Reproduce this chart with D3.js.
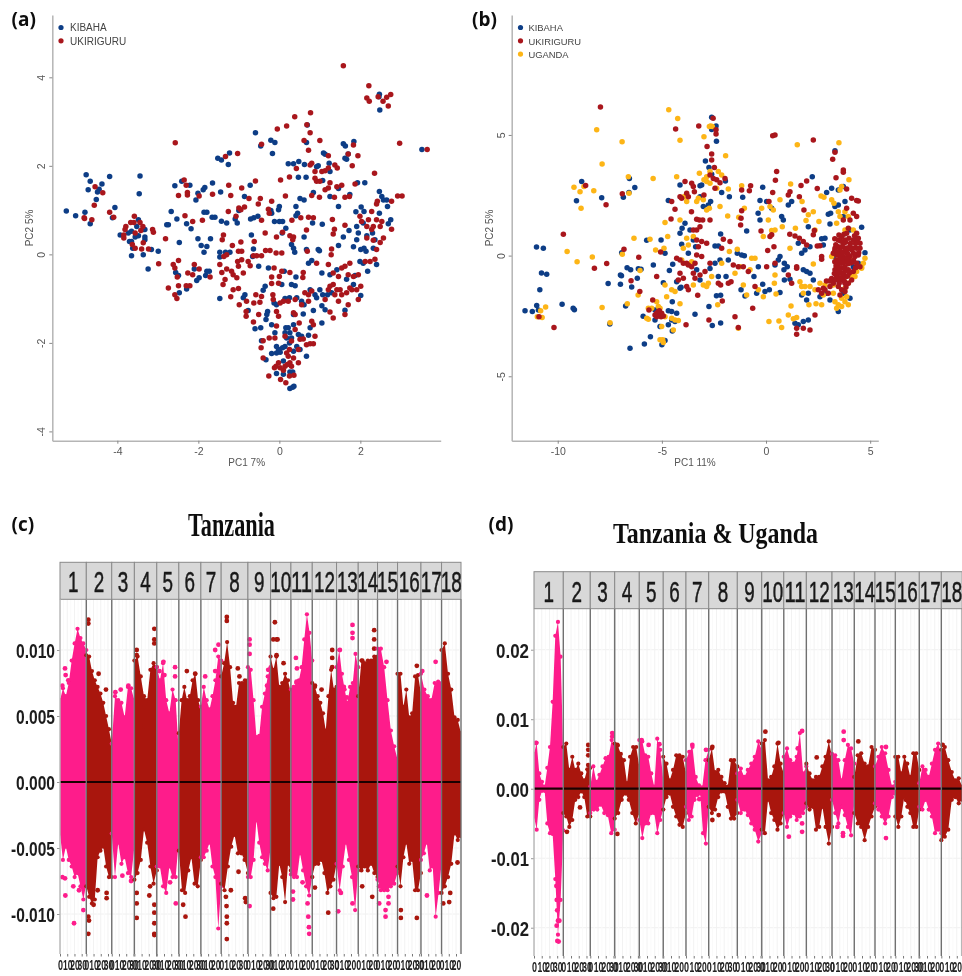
<!DOCTYPE html>
<html><head><meta charset="utf-8">
<script src="https://cdn.jsdelivr.net/npm/d3@7"></script>
<style>html,body{margin:0;padding:0;background:#fff;overflow:hidden}svg{display:block}</style>
</head><body><svg id="c" width="962" height="976"></svg>
<script>
// ---------- Panel (a) PCA values: [PC1, PC2]
const kibahaA=[[-5.26,.98],[-5.03,.87],[-4.8,.95],[-4.67,.69],[-4.77,1.8],[-4.67,1.65],[-4.72,1.46],[-4.49,1.41],[-4.45,1.47],[-4.38,1.59],[-4.52,1.24],[-4.19,1.76],[-3.44,1.77],[-3.46,1.37],[-4.06,1.06],[-4.12,.83],[-3.93,.44],[-3.73,.48],[-3.65,.52],[-3.52,.63],[-3.48,.78],[-3.36,.56],[-3.32,.56],[-3.32,.39],[-3.32,.33],[-3.56,.39],[-3.48,.42],[-3.65,.29],[-3.7,.29],[-3.62,.14],[-3.65,-.03],[-3.36,-.01],[-3.24,-.33],[-2.99,.07],[-3.16,.11],
[-2.67,.97],[-2.78,.67],[-2.74,.67],[-2.53,.8],[-2.47,.27],[-2.58,1.55],[-2.41,1.65],[-2.21,1.56],[-2.29,.69],[-2.18,.58],[-2.01,.35],[-1.93,.2],[-1.86,.05],[-1.79,.18],[-1.7,.35],[-2.01,1.38],[-2.06,1.23],[-1.88,1.46],[-1.84,1.51],[-1.65,1.61],[-1.45,1.41],[-1.86,.95],[-1.79,.95],[-1.66,.84],[-1.59,.84],[-1.43,.75],[-1.3,.71],[-1.52,2.17],[-1.43,2.13],[-1.26,2.03],[-1.23,2.29],[-1.47,.05],[-1.47,-.06],[-1.33,.05],[-1.22,.05],[-1.47,-1],[-1.79,-.38],[-1.73,-.38],[-1.82,-.48],[-1.98,-.53],[-2.04,-.59],[-2.1,-.33],[-2.29,-.78],[-2.56,-.41],[-2.49,-.48],[-2.47,-.87],
[-1.09,.8],[-1.04,.71],[-1,.99],[-.86,1.31],[-.72,1.56],[-.71,.8],[-.63,.83],[-.53,.86],[-.59,2.75],[-.21,2.58],[-.11,2.53],[-.17,2.28],[-.46,2.45],[-.69,.44],[-.64,.12],[-.66,-.05],[-.51,-.27],[-.21,.99],[-.19,.93],[-.27,-.31],[-.02,1.01],[0,1.08],[-.12,.74],[0,.74],[.08,.74],[.16,.59],[.07,.48],[.22,2.05],[.35,2.05],[.48,2.1],[.62,2.03],[.47,1.74],[.66,1.74],[.51,1.26],[.61,1.23],[.41,1.08],[.45,.93],[.41,.87],[.61,.39],[.3,.22],[.35,.14],[.38,.05],[.67,.11],[.72,-.2],[.8,-.14],[.82,.71],[1.06,.68],[.96,.11],[.99,.08],[.84,1.4],[1.07,1.67],[.67,2.53],[.69,2.92],[.92,1.98],[.96,2],[1.09,2.29],[1.13,2.26],[1.23,2.06],[1.25,1.87],[1.46,1.49],[1.25,1.31],[1.46,1.08],
[1.58,2.5],[1.63,2.45],[1.84,2.55],[1.7,2.27],[1.62,2.17],[1.66,2.15],[1.93,1.62],[2.11,1.62],[1.74,1.35],[1.89,.96],[2.02,1.07],[2.09,.97],[2.47,1.42],[2.53,1.31],[2.57,1.23],[2.65,1.23],[2.67,1.08],[2.47,.93],[2.69,.69],[2.75,.78],[2.47,3.62],[2.48,3.26],[2.46,3.56],[3.52,2.37],
[1.72,.54],[1.58,.39],[1.46,.2],[1.83,.17],[1.91,.63],[1.95,.48],[1.91,.33],[2.01,.11],[2.09,.14],[2.14,.07],[2.07,.71],[2.32,.14],[2.36,.33],[2.16,.42],[2.3,.48],[1.99,-.16],[2.4,-.23],[2.18,-.38],[2.07,-.2],[1.87,-.48],[1.83,-.68],[2.01,-.93],[1.66,-.56],[1.42,-.35],[1.25,-.46],[1.05,-.42],[1.19,-.91],[1.29,-.87],[1.62,-1.26],
[1,-.8],[.88,-.91],[1.07,-.91],[.76,-.8],[.92,-.98],[.41,-.51],[.3,-.68],[.39,-.71],[.06,-.68],[.12,-.38],[-.35,-.72],[-.4,-.81],[-.85,-.91],[-.89,-.98],[-.77,-1.27],[-.6,-1.68],[-.46,-1.66],[-.33,-1.47],[-.29,-1.29],[-.31,-1.36],[-.13,-1.1],[-.07,-1.14],[.14,-1],[.25,-.98],[.43,-.98],[.55,-1.06],[.61,-1.14],[.59,-1.35],[.35,-1.36],[.84,-1.27],[1.05,-1.16],[1.13,-1.25],[1.05,-1.55],[.76,-1.66],[.72,-1.83],
[-.19,-1.59],[-.11,-1.77],[-.44,-1.95],[-.33,-2.38],[-.07,-2.08],[-.02,-2.15],[.02,-2.21],[.08,-2.11],[.14,-2.08],[.16,-1.66],[.22,-1.66],[.26,-1.77],[.3,-1.89],[.18,-1.89],[.35,-1.59],[.47,-1.81],[.55,-1.85],[.43,-2.08],[.51,-2.15],[.67,-2.3],[.35,-2.19],[.25,-2],[.1,-2.41],[-.07,-2.69],[.1,-2.71],[.26,-2.66],[.33,-2.66],[.36,-2.98],[.33,-3],[.26,-3.03],[.14,-1.77],[-.07,-2.23],[-.19,-2.24]];
const ukiriguruA=[[1.58,4.26],[2.21,3.81],[2.16,3.53],[2.22,3.46],[2.44,3.56],[2.56,3.46],[2.65,3.55],[2.75,3.61],[2.69,3.35],[2.97,2.51],[3.65,2.37],[2.35,1.83],[2.92,1.32],[3.03,1.32],
[.38,3.11],[.77,3.2],[.68,2.93],[.18,2.9],[-.05,2.83],[.76,2.75],[1,2.57],[.61,2.57],[.72,2.35],[-.44,2.49],[-1.03,2.28],[-1.33,2.21],[-2.57,2.52],[1.21,2.23],[1.7,2.27],[1.94,2.23],[1.83,2.47],[1.8,2],[1.37,2.02],[1.43,1.95],
[.8,2.06],[.76,2.02],[.88,1.87],[1.05,1.87],[1.13,1.89],[1.21,1.95],[.88,1.72],[.92,1.65],[1,1.65],[1.25,1.62],[1.21,1.5],[1.13,1.46],[1.42,1.53],[1.54,1.56],[1.87,1.59],[.42,1.94],[.25,1.75],[.03,1.68],[-.59,1.66],[-1.25,1.56],[-2.35,1.68],[-2.3,1.56],[-2.27,1.4],[-2.27,1.34],[-2.49,1.33],[-1.98,1.32],[-1.65,1.36],[-1.2,1.33],[-.93,1.5],[-.75,1.26],[-.52,1.14],[-.47,1.26],[-.19,1.2],[.15,1.32],[.8,1.33],[.99,1.29],[1.36,1.29],[1.62,1.29],[1.73,1.31],[2.42,1.2],[2.4,1.14],[2.77,1.2],
[-4.55,1.53],[-4.36,1.39],[-4.57,1.11],[-4.19,.95],[-4.09,.84],[-4.81,.81],[-4.63,.78],[-4.82,.83],
[-3.79,.63],[-3.81,.56],[-3.84,.44],[-3.84,.37],[-3.67,.72],[-3.58,.86],[-3.59,.72],[-3.44,.72],[-3.37,.63],[-3.42,.54],[-3.56,.48],[-3.13,.56],[-3.11,.5],[-3.36,.26],[-3.4,.12],[-3.63,.22],[-3.56,.14],[-3.23,.12],[-2.98,-.21],[-2.81,.35],
[-2.33,.87],[-2.14,.74],[-1.9,.77],[-1.26,.97],[-1.07,.86],[-1,1.05],[-.86,1.07],[-.95,1.01],[-.44,.77],[-.27,1.02],[-.25,.93],[.31,.77],[.53,.83],[.72,.84],[.84,.83],[1.31,.79],[1.36,.57],[1.33,.46],[1.62,.66],[.67,.55],
[-.35,.48],[-.07,.39],[.26,.42],[.35,.39],[.33,.33],[.08,.5],[-.62,.29],[-.95,.28],[-1.41,.33],[-1.38,.44],[-1.16,.2],
[-.93,.07],[-1.01,.07],[-1.3,-.01],[-1.37,-.05],[-1.47,-.23],[-1.42,-.41],[-1.3,-.33],[-1.03,-.16],[-.93,-.12],[-.77,-.16],[-.72,-.26],[-1.01,-.27],[-1.18,-.38],[-1.14,-.46],[-1.05,-.53],[-.89,-.42],[-.64,-.03],[-.56,-.03],[-.44,-.03],[-.34,.09],[-.23,.09],[-.08,.03],[.06,.03],[.69,.07],[1.29,.12],[1.28,-.01],[.92,-.2],[1.21,-.23],
[-2.62,-.23],[-2.58,-.31],[-2.49,-.14],[-2.52,-.51],[-2.74,-.76],[-2.49,-.71],[-2.58,-.91],[-2.53,-1],[-2.26,-.42],[-2.14,-.46],[-2.1,-.23],[-1.98,-.33],[-2.3,-.71],[-2.21,-.71],[-1.71,-.51],[-1.39,-.68],[-1.34,-.57],[-1.2,-.96],[-1.14,-.8],[-1.01,-.77],[-.99,-1.14],[-.81,-1.06],[-.82,-1.29],[-.82,-1.4],[-.64,-1.53],[-.51,-1.36],[-.63,-1.1],[-.58,-.91],[-.44,-.95],[-.48,-1.08],[-.16,-.91],[-.19,-.51],[-.19,-.66],[-.13,-.31],[0,-.5],[-.02,-.65],[.06,-.38],[.26,-.41],[.59,-.41],[.58,-.52],
[1.33,-.42],[1.46,-.5],[1.54,-.31],[1.62,-.27],[1.74,-.2],[1.33,-.68],[1.25,-.72],[1.21,-.8],[1.42,-.8],[1.5,-.8],[1.54,-.91],[1.46,-1.06],[1.66,-.87],[1.74,-.76],[1.7,-.46],[1.95,-.46],[1.83,-.5],[2.01,-.72],[1.91,-.8],[1.79,-.8],[1.95,-1.02],[1.7,-1.14],[1.62,-1.36],[1.33,-1.44],[1.25,-1.3],[1.37,-.91],[.8,-.83],[.72,-.91],[.72,-1.06],[.63,-.87],[.55,-1.14],[1.13,-1.02],
[1.99,.86],[2.03,.74],[2.16,.63],[2.2,.78],[2.28,.97],[2.4,.78],[2.53,.74],[2.49,.63],[2.28,.56],[2.32,.63],[2.77,.57],[2.16,.37],[2.32,.32],[2.57,.37],[2.49,.27],[2.4,.11],[2.12,-.16],[2.24,-.16],[2.36,-.11],
[.1,-1.06],[.22,-1.06],[.39,-1.02],[.02,-1.1],[-.15,-1.02],[-.07,-1.29],[-.02,-1.4],[-.07,-1.62],[-.25,-1.89],[-.4,-1.95],[-.45,-2.11],[-.4,-2.34],[-.11,-1.89],[.14,-1.85],[.39,-1.36],[.35,-1.32],[.3,-1.96],[.39,-1.7],[.49,-1.55],[.51,-1.92],[.59,-1.91],[.47,-2.15],[.67,-2.04],[.76,-2.02],[.84,-2.02],[.88,-1.85],[.8,-1.51],[.84,-1.59],
[-.02,-2.45],[-.08,-2.53],[-.12,-2.56],[.02,-2.56],[.14,-2.53],[.18,-2.23],[.25,-2.15],[.22,-2.3],[.26,-2.45],[.35,-2.34],[.47,-2.45],[.3,-2.53],[.2,-2.49],[-.26,-2.75],[.03,-2.83],[.16,-2.9],[.25,-2.75],[.36,-2.73],[.1,-2.62]];
// ---------- Panel (b) PCA values: [PC1, PC2]
const kibahaB=[[-11.57,-2.29],[-11.22,-2.32],[-11.01,-2.07],[-10.93,-2.25],[-11.02,.36],[-10.69,.3],[-10.78,-.72],[-10.53,-.77],[-10.86,-1.41],[-9.79,-2.02],[-9.26,-2.18],[-9.2,-2.24],[-8.85,3.07],[-9.1,2.27],[-7.89,2.4],[-6.85,2.42],[-6.56,3.2],[-6.3,2.82],[-6.58,2.61],[-5.73,.64],[-5.04,.65],[-6.93,.12],[-7.58,-1.16],[-6.99,-.8],[-6.94,-.83],[-6.99,-1.19],[-6.67,-.5],[-6.5,-.59],[-6.45,-1.3],[-6.18,-.94],[-6.13,-.54],[-6,-.57],[-6.74,-2.09],[-7.5,-2.83],[-6.53,-3.84],[-5.84,-3.66],[-5.55,-3.36],[-5,-3.69],[-4.85,-3.52],[-5.9,-2.51],[-5.33,-2.67],[-5.33,-2.25],[-5.09,-2.94],[-4.69,-2.87],[-4.53,-2.67],[-4.69,-2.29],[-4.53,-2.32],[-4.29,-2.39],[-4.5,-1.91],[-4.37,-2.73],[-4.5,-3.12],[-3.41,-2.43],[-2.74,-2.11],[-2.58,-2.9],[-2.18,-2.79],[-2.38,-1.66],[-2.18,-1.64],[-5.41,-.39],[-4.85,.1],[-4.64,-.62],[-4.93,-1.12],[-4.48,-.36],[-4.29,-1.08],[-4.13,-1.35],[-4.08,-1.31],[-4.69,2.28],[-4.13,2.93],[-4.03,1.13],[-3.89,1.34],[-4.13,.93],[-3.49,.65],[-3.65,1.06],[-4.05,.47],[-3.73,.1],[-3.38,.37],[-3.17,2.89],[-3.09,2.93],[-3.17,2.44],[-3.01,2.03],[-2.77,2.1],[-2.66,2.24],[-2.91,3.92],[-2.74,3.65],[-2.61,3.37],[-2.61,5.73],[-2.4,5.37],[-2.61,5.23],[-2.38,4.74],[-2.18,.9],[-2.45,.4],[-2.29,.4],[-2.21,-.18],[-2.45,-.32],[-2.69,-.53],[-1.92,-.87],[-2.29,-.87],[-3.33,-.59],[-3.17,-1.01],[-1.81,-.18],[-2.13,2.61],[-1.76,2.44],[-1.95,3.09],[-1.12,2.42],[-1.38,.1],[-1.17,.03],[-1.04,-.01],[-1.2,-1.42],[-1.01,-1.67],[-.45,-1.56],[-.93,1.02],[-.38,1.75],[-.29,1.48],[-.29,2.28],[-.16,2.83],[-.37,-.46],[-.58,-.87],[-.16,-1.19],[-.05,-1.49],[.16,-1.42],[.03,2.24],[.27,1.96],[.75,1.62],[.83,1.48],[1.23,2.24],[1.07,2.1],[.67,-.04],[.59,-.18],[.43,-.39],[.88,-.32],[.86,-.59],[1.02,-.46],[1.15,-.98],[.67,-1.53],[.88,-1.01],[1.39,-2.8],[1.55,-2.87],[1.79,-2.73],[2.03,-2.67],[1.71,.1],[1.55,.51],[1.87,.23],[2.11,.37],[2.22,3.27],[2.03,1.2],[1.79,-.59],[1.95,-.66],[2.11,-.73],[2.27,-1.01],[1.71,-1.63],[2.03,-1.56],[2.59,-1.7],[1.95,-1.84],[2.67,.7],[2.83,.72],[2.75,.44],[3.31,4.35],[2.91,2.61],[3.15,2.79],[3.47,2.72],[3.71,2.86],[2.99,1.71],[3.1,1.75],[3.07,1.31],[3.31,2.03],[3.47,2.1],[3.79,2.24],[3.71,1.62],[4.03,1.06],[4.59,1.17],[4.75,.12],[4.35,.65],[2.91,-1.56],[3.07,-1.84],[3.47,-2.32],[4.03,-1.77],[3.71,-1.56],[3.23,-.04],[3.47,-1.01],[4.43,-.32],[4.19,-.46]];
const ukiriguruB=[[-7.95,6.16],[-4.34,5.25],[-3.23,5.37],[-2.54,5.69],[-2.4,5.21],[-2.4,5.04],[-2.83,4.52],[-2.61,4.21],[-2.61,3.96],[-2.48,3.65],[-2.69,3.34],[-2.53,3.2],[-2.37,3.14],[-2.21,3.02],[-1.97,3.2],[-2.45,2.79],[.32,4.97],[.43,5],[2.27,4.79],[3.31,4.28],[3.2,3.99],[3.71,3.55],[3.71,3.45],[3.36,3.23],[.51,3.48],[.45,3.12],[1.95,3.09],[1.68,2.91],[2.46,2.78],[-.74,2.89],[-.8,2.69],[-1.17,2.72],[.32,2.62],[1.15,2.65],[1.07,2.51],[1.6,2.44],[.14,2.24],[1.82,1.89],[3.87,2.76],[4.35,2.28],[4.43,2.26],[4.11,2.38],[3.87,1.96],[4.19,1.75],[4.35,1.62],[3.71,1.48],[4.03,1.48],[3.95,1.13],[2.32,1.04],[2.27,.86],[1.14,.88],[1.39,.81],[1.6,.72],[1.79,.58],[1.95,.44],[2.46,.4],[2.59,.41],[.27,.86],[.19,.79],[-.24,1.02],[.08,.21],[.38,.37],[2.67,-.04],[2.67,-.15],[-1.17,1.86],[-1.2,1.55],[-1.22,1.27],[-8.66,2.91],[-7.68,2.11],[-9.73,.88],[-8.24,-.52],[-7.65,-.33],[-10.9,-2.53],[-10.18,-2.98],[-6.9,2.56],[-6.82,.26],[-6.11,-.07],[-6.48,-1.04],[-6.06,-1.49],[-5.06,.15],[-5.25,-.87],[-5.44,-1.84],[-5.62,-2.25],[-3.84,-2.87],[-2.74,-2.67],[-4.53,2.24],[-4.37,1.92],[-4.56,1.52],[-3.58,1.82],[-3.33,1.51],[-3.2,1.48],[-3.04,1.48],[-2.69,1.48],[-3.33,1.06],[-3.49,1.06],[-3.17,1.2],[-4.13,2.44],[-4.05,2.38],[-3.81,2.58],[-3.73,2.44],[-3.89,3.07],[-3.57,3],[-3.49,2.86],[-3.44,2.65],[-2.98,2.51],[-3.33,.65],[-3.09,.58],[-2.85,.51],[-3.25,.37],[-2.05,.68],[-1.73,.58],[-2.13,.3],[-4.29,-.11],[-4.13,-.18],[-3.97,-.32],[-3.81,-.32],[-3.73,-.39],[-3.57,-.46],[-3.41,-.32],[-3.33,.03],[-3.09,-.04],[-4.13,-.73],[-4.21,-1.01],[-3.97,-.94],[-3.81,-1.28],[-3.73,-1.42],[-3.49,-.73],[-3.41,-.94],[-3.17,-.8],[-2.93,-.66],[-3.28,-1.64],[-2.69,-.32],[-2.29,-1.15],[-2.18,-1.22],[-1.81,-1.15],[-1.68,-1.08],[-1.57,-.39],[-1.33,-.46],[-1.09,-.46],[-.85,-.66],[-.53,-1.28],[-.64,-2.18],[-1.49,-2.53],[-1.33,-2.98],[-2.1,-1.88],[.03,-.46],[.43,-.32],[1.07,-.8],[1.23,-1.15],[1.47,-.46],[1.47,-.52],[2.35,-2.46],[2.11,-3.08],[1.79,-3.01],[1.47,-3.01],[1.47,-3.26],
[-5.33,-2.46],[-5.25,-2.39],[-5.17,-2.32],[-5.09,-2.46],[-5.25,-2.53],[-5.01,-2.39],[-4.93,-2.5],[-5.12,-2.28],[-5.04,-2.53],
[3.47,.37],[3.55,.23],[3.63,.1],[3.71,.51],[3.79,.3],[3.87,.1],[3.95,-.18],[3.39,-.18],[3.47,-.46],[3.63,-.32],[3.79,-.46],[3.95,-.59],[3.31,-.59],[3.55,-.73],[3.71,-.73],[3.87,-.87],[3.39,-.87],[3.63,-1.01],[3.79,-1.15],[3.47,-1.28],[3.23,.1],[3.31,.3],[4.03,.37],[4.19,.3],[4.35,.3],[4.51,.3],[4.43,.03],[4.27,-.04],[4.35,.93],[4.43,.72],[4.51,.51],[4.19,.65],[4.03,-.04],[3.63,.79],[3.47,.65],[3.79,.65],[3.87,.93],[3.23,-1.15],[3.07,-1.28],[2.83,-1.42],[2.99,-1.56],[2.67,-1.56],[2.51,-1.42],[3.63,-1.42],[3.79,-1.49],[3.55,-1.63],[4.35,-.32],[4.51,-.46],[4.19,-.66],[3.55,-.11],[3.73,-.07],[3.39,.03],[3.95,-1.15],[4.11,-1.01],[3.63,-.52],[3.51,-1.15],
[3.3,.7],[3.35,.45],[3.42,.15],[3.5,.85],[3.58,.6],[3.66,.38],[3.74,.88],[3.82,.55],[3.9,.32],[3.98,.72],[4.05,.5],[3.3,-.25],[3.36,-.42],[3.44,-.3],[3.5,-.62],[3.56,-.3],[3.62,-.72],[3.68,-.14],[3.76,-.28],[3.82,-.62],[3.9,-.12],[3.96,-.34],[4,-.72],[3.28,-.74],[3.34,-1],[3.42,-.68],[3.48,-.92],[3.56,-.98],[3.68,-.9],[3.76,-1.06],[3.84,-1.3],[3.92,-.84],[3.58,.02],[3.72,.14],[3.86,.22],[3.94,.06],[3.3,.2],[4.1,.24],[4.2,.1],[4.3,.5],[4.25,.82],[4.4,.55],[4.45,.12],[4.1,-.3],[4.2,-.2],[4.3,-.5],[3.15,-.95],[3.05,-1.05],[2.9,-1.05],[2.75,-1.35]];
const ugandaB=[[-4.67,6.04],[-4.24,5.68],[-4.13,4.78],[-8.13,5.22],[-6.91,4.72],[-7.87,3.8],[-6.61,3.27],[-5.42,3.19],[-4.29,3.27],[-9.22,2.83],[-8.93,2.65],[-8.74,2.86],[-8.27,2.69],[-8.88,1.96],[-6.58,2.58],[-9.55,.17],[-9.07,-.25],[-8.34,-.06],[-6.9,.06],[-6.34,.72],[-5.57,.68],[-4.72,.79],[-4.85,1.37],[-4.13,1.48],[-5.3,.23],[-4.9,.3],[-6.05,-.62],[-6.14,-1.63],[-6.66,-2],[-7.87,-2.15],[-7.49,-2.78],[-10.58,-2.13],[-10.82,-2.29],[-10.98,-2.53],[-10.75,-2.56],
[-5.65,-2.18],[-5.49,-2.18],[-5.25,-1.91],[-5.17,-2.11],[-5.09,-2.18],[-5.73,-2.6],[-5.65,-2.64],[-4.85,-2.53],[-4.53,-2.6],[-4.37,-2.67],[-4.21,-2.69],[-4.45,-3.08],[-5.01,-2.94],[-5.09,-3.49],[-4.93,-3.6],[-4.96,-3.49],[-4.13,-2],[-4.53,-1.42],[-4.77,-1.7],[-4.85,-1.22],
[-2.66,5.37],[-2.72,5.35],[-2.58,5.35],[-2.98,4.93],[-1.94,4.14],[-3.2,3.41],[-2.85,3.27],[-2.69,3.48],[-2.29,3.48],[-2.13,3.34],[-2.98,3.14],[-2.85,3.07],[-2.69,3],[-2.37,2.79],[-1.81,2.76],[-1.17,2.89],[-3.94,2.44],[-3.81,2.24],[-3.33,2.24],[-3.25,2.38],[-3.01,2.31],[-2.85,1.89],[-2.72,1.96],[-2.21,2.03],[-1.84,1.64],[-1.04,1.96],[-1.31,1.59],[-.21,1.96],[.19,2.03],[.35,1.89],[.11,1.48],[.27,1.04],[.43,1.06],[-.13,.79],[.78,1.2],[.67,2.31],[1.18,2.97],[1.5,4.59],[1.41,1.13],[1.73,2.24],[2.03,1.69],[2.27,1.82],[1.92,1.45],[2.54,1.41],[2.35,1.06],[2.64,2.47],[2.78,2.42],[3.5,4.68],[3.98,3.14],[3.63,2.86],[3.55,2.72],[3.15,2.31],[3.26,2.17],[3.47,1.82],[3.55,1.62],[3.39,1.34],[3.79,1.82],[3.95,1.62],
[-3.81,.72],[-3.97,.3],[-3.73,.44],[-3.49,.79],[-4.05,-.18],[-3.57,-.25],[-4.37,-1.49],[-3.49,-1.22],[-3.01,-1.22],[-2.85,-1.28],[-2.77,-1.15],[-2.61,-.87],[-2.13,-.32],[-2.32,-2.04],[-1.38,.26],[-1.76,.17],[-1.49,-.73],[-1.25,-.46],[-1.09,-1.22],[-.93,-1.63],[-.77,-.59],[-.69,-.11],[-.53,-.11],[-.37,-1.42],[-.13,-1.7],[.43,-.8],[.4,-1.15],[.48,-1.59],[1.2,-2.09],[1.07,-2.46],[1.31,-2.62],[1.47,-2.57],[.14,-2.73],[.62,-2.71],[.75,-2.98],[-1.33,-3.01],[1.15,.3],[1.63,-1.08],[1.71,-1.28],[1.87,-1.28],[2.11,-1.28],[2.35,-1.42],[1.79,-1.56],[2.4,-2],[2.67,-2.04],[2.06,-2.04],[2.27,-.35],
[3.23,-1.56],[3.31,-1.91],[3.47,-2.04],[3.63,-2.11],[3.79,-1.91],[3.95,-2.04],[3.39,-2.18],[3.79,-1.35],[3.95,-1.15],[4.11,-.87],[4.35,-.66],[4.59,-.52],[4.67,-.32],[4.75,-.11],[4.59,-.46],[4.27,-.87],[4.03,-.11],[3.79,1.06],[4.19,1.06],[3.15,-.04],[3.63,-1.77],[2.59,-1.15],[2.83,-1.22],[2.75,-1.63],[3.23,-1.22],[3.87,-1.7]];
// ---------- Chromosome facets (Mb) and tick labels
const chromNames=["1","2","3","4","5","6","7","8","9","10","11","12","13","14","15","16","17","18"];
const chromLenC=[36.4,35.2,31.3,31,30.5,30.5,28.1,37,31.3,28.2,29.5,33.6,30,26.7,27.7,32.4,28.5,26.9];
const chromLenD=[37.9,34.9,31.6,31.8,31,29.4,29.4,37,31.6,28.5,29.2,33.2,28.8,26.8,26.3,31,28.5,27];
const mbTicks=[0,10,20,30];
const cTicks=[-10,-5,0,5,10];
const dTicks=[-20,-10,0,10,20];
// ---------- Panel (c): solid-core limits x 1000, per chromosome, evenly along it
const cHi=[[6.2,7.1,6.5,7.5,9.2,10.5,11.6,10.9,10.5,10],[9.6,9.5,8.4,7.7,7.2,6.7,6,5,4,2.9],[2.9,6.5,6.2,6,4.9,7.2,7.1,6.2],[9.2,9.5,8,6.5,6.2,8.5,9,8.7],[8.7,7.7,9,6.2,5.2,7,6.2,2.2],[3.7,6.2,7.2,6.2,6.5,7.7,8.2,6.2,5.5],[5.7,7.2,6.2,5.5,6.5,7.7,9.5,9.2],[8,9,10.6,8.7,6,5.7,7.5,7.5,7.7,7.7],[8.7,8.5,6.2,3.4,3.5,5.7,6.7,8,8.7],[9.5,8.5,9.5,7.2,7.5,8.2,7.7,6.7],[7,7.2,7.5,7.7,8.7,10.8,12.7,11.3,9.2],[7.5,7.2,6.5,6,5.2,3.9,6.5,8.5,7,7.2],[8.7,10,8.2,7,6,7.2,7.5,9.7,8.7],[6.5,9.2,9,9.2,9.2,9.5,9.5],[10.1,10.1,8.7,6.2,3.9,2.7,1.7],[8.2,8.2,5.7,7,4.9,5.2,8,8.1,6.7],[8.2,7,6.5,6.2,7.5,7.6,7.5],[10,10.5,8.2,7,4.9,4.7,3.7]];
const cLo=[[-3.9,-5.9,-4.9,-5.9,-6.4,-7.2,-6.9,-7.9,-8.9,-7.7],[-7.9,-8.7,-9.2,-8.9,-5.7,-5.2,-4.9,-6.4,-7.2,-7.2],[-3.9,-7.2,-4.6,-6.2,-5.7,-6.9,-7.2,-4.9],[-7.4,-6.9,-5.9,-3.6,-4.6,-6.4,-7.7,-6.7],[-6.4,-6.4,-7.9,-8.4,-6.4,-7.2,-7.2,-4.4],[-5.2,-8.2,-8.4,-6.7,-5.7,-7.7,-7.9,-5.9],[-5.7,-5.7,-5.2,-4.6,-6.4,-7.2,-11.1,-7.9],[-7.7,-8.2,-6.4,-4.9,-4,-5.4,-5.4,-5.9,-6.9],[-7.2,-7.2,-5.9,-2.9,-4.6,-5.7,-6.2,-6.7,-5],[-8.4,-8.8,-8.7,-6.2,-7.2,-9.1,-6.2,-6.7],[-7,-7.2,-7.2,-5.4,-6.7,-7.9,-8.6,-7.2],[-7.2,-6.2,-6.2,-5.9,-6.9,-8.4,-7.9,-7.4,-6.2],[-6.2,-8.2,-6.4,-4.6,-5.9,-7.2,-9.7,-6.7],[-6.4,-6.7,-6.4,-6.7,-6.2,-6.9,-7.2],[-7.4,-8.2,-8.2,-8.2,-7.9,-7.7,-6.9],[-6.4,-7.9,-5.7,-4.6,-6.2,-5.9,-8.2,-8.2,-6.9],[-5.9,-5.4,-4.6,-6.7,-6.4,-10.2,-8.4,-6.2],[-8.4,-7.9,-7.2,-6.2,-3.9,-4.4,-4.1]];
// loose points: [chromosome index, position Mb, value x 1000]
const cOut=[[0,6.9,8.6],[0,7.8,8.1],[0,3.2,7.3],[0,11.5,7.7],[0,3.2,-7.2],[0,6.9,-7.3],[0,7.4,-8.6],[0,18.4,-7.9],[0,19.4,-10.7],[0,26.3,-8.2],[0,32.3,-9.7],
[1,2.8,12.3],[1,2.8,12],[1,17,8.2],[1,27.2,7],[1,2.8,-10.2],[1,3.7,-10.5],[1,2.8,-11.5],[1,10.1,-9.3],[1,15.7,-8.2],[1,28.1,-8.4],[1,28.1,-8.8],
[2,5,6.8],[2,12.4,7],[2,23,7.3],[2,14.7,-7.1],[2,26.7,-7.5],
[3,3.2,10],[3,3.2,9.6],[3,27.6,11.6],[3,27.6,10.8],[3,27.6,10.5],[3,14.7,5.7],[3,13.8,4.2],[3,3.2,-8.4],[3,3.2,-9.2],[3,3.2,-10.3],[3,21.7,-7.9],[3,20.7,-8.6],[3,27.6,-9.9],[3,27.6,-10.7],[3,27.6,-11.5],[3,27.6,-11.6],[3,27.6,-9.3],
[4,3.7,8.4],[4,9.2,9.1],[4,10.6,8.1],[4,25.3,8.7],[4,25.3,8],[4,26.3,-9.2],[4,18.4,-7.6],
[5,11.1,8.4],[5,22.6,8.2],[5,14.3,4.7],[5,6,-9.3],[5,9.2,-10.2],
[6,6,8],[6,19.8,8.4],[6,19.8,10],[6,24.4,10.4],
[7,7.8,12.5],[7,7.8,12.2],[7,23,8.6],[7,25.3,8],[7,6.5,-8.7],[7,7.4,-9.4],[7,7.8,-10.2],[7,7.8,-10.7],[7,7.8,-11.9],[7,13.4,-8.2],[7,24,-6.8],[7,33.2,-8.8],[7,34.1,-9.1],
[8,2.3,10.8],[8,2.3,10.4],[8,2.3,9.7],[8,2.3,-9.4],[8,28.1,8.5],[8,26.5,7.3],
[9,6,12.1],[9,3.7,10.8],[9,8.3,10.8],[9,9.7,10.8],[9,8.3,9.6],[9,18,9],[9,14.3,4],[9,11.5,5.5],[9,3.7,-9.6],
[10,6.9,9.4],[10,8.3,8.6],[10,7.8,7.6],[10,2.8,-8.3],[10,2.8,-8.9],[10,16.1,-7.6],[10,24,-10.2],[10,24.9,-11],[10,25.3,-11.5],[10,23,-9.2],
[11,3.7,7.3],[11,12.9,7],[11,27.6,10],[11,27.6,9.4],[11,27.6,8.7],[11,17.5,2.9],[11,19.8,1.9],[11,21.2,1.2],[11,3.7,-8],[11,22.1,-9.9],
[12,4.6,10],[12,22.1,11.9],[12,22.1,11.3],[12,22.1,10.9],[12,14.3,6.4],[12,10.1,7.2],[12,2.3,-9.8],[12,6,-8.4],[12,22.1,-9.2],
[13,22.1,11.5],[13,22.1,10.8],[13,22.1,10.1],[13,5.5,9.2],[13,5.5,-7.9],[13,19.4,-8.7],
[14,12.4,9.1],[14,2.3,-7.9],[14,2.3,-9.2],[14,11.1,-9.7],[14,11.1,-10.2],[14,15.2,-8.7],[14,15.2,-9.2],
[15,26.7,8.8],[15,15.2,4],[15,4.6,-9.7],[15,4.6,-10.3],[15,26.7,-10.3],
[16,1.8,8.4],[16,20.3,9.1],[16,14.7,3.4],[16,8.3,-8.6],
[17,22.1,-6.1],[17,2.3,-9.2],[17,12,-8.4],[17,10.6,-9.1]];
// ---------- Panel (d): solid-core limits x 1000
const dHi=[[5,6.6,2.2,1,.3,3,6,12.5,22,24,19,5],[6,6.5,2.7,4.6,2.7,3.6,2.2,1.2,2.8,3],[.3,3.2,1,2,3.2,4.4,4.6,7,6],[6.5,6.2,5,4.1,.8,4.6,6,6,3.2],[7,6.8,4.8,4.6,2.2,.3,7.2,5.6,1.2],[4.6,3.6,1.2,2.7,4.8,4.8,4.6,2.2],[4.1,5.3,6,1.7,.5,.2,4.1,5.6],[4.1,5.8,2.4,2.7,1.7,.8,.3,4.1,4.1,3.2],[2.2,2.9,1.7,2.7,3.6,4.6,6.8,5.6],[6.5,7,1.2,1.7,3.2,6.5,3.6,2.2],[4.6,5.8,4.1,3.6,4.6,8,2.2,3.2],[3.6,2.2,1.2,1.7,1.7,3.2,4.6,6.8,4.6],[5,4.8,4.1,1.2,4.1,6.3,5.8,3.6],[1.7,4.8,5.1,3.6,3.2,6,5.6],[3.2,4.6,6,5.1,2.7,.3,1],[4.6,4.6,2.2,4.6,3.6,1.7,5.1,5.1,2.7],[.8,3.2,2.7,1.7,3.6,5.6,6.5,5],[5.6,6,4.1,2.4,1.2,1.5,.3]];
const dLo=[[-4,-5.9,-1.6,-.3,-.3,-5,-6.4,-6.5,-13,-21,-16,-6],[-3.5,-4,-5.5,-4.5,-1.6,-1.2,-.4,-1.2,-4,-4],[-3.5,-3,-3,-2.3,-3.5,-3.8,-6.4,-5.9],[-4.3,-3.5,-1.6,-.7,-1.6,-3.5,-5,-3.5],[-4.5,-7.1,-5,-5,-3.5,-3.5,-6.4,-4.5,-3],[-3,-1.2,-.7,-2.6,-4,-5.2,-5.5,-3.5],[-2.6,-4.5,-4,-1.6,-.9,-.7,-6.4,-7.9,-2.6],[-2.6,-3.5,-3,-1.2,-.4,-.4,-2.6,-4.3,-4.3,-3.5],[-1.6,-3.5,-3,-3.8,-5,-5.9,-7.6,-6.4],[-5.9,-6.4,-1.6,-3.5,-4.5,-5.9,-5,-3.5],[-3.5,-5.5,-4,-3.5,-4.5,-4,-3.5,-2.6],[-2.1,-3,-2.6,-5.9,-5.5,-2.6,-5.5,-7.9,-5.5],[-1.6,-3.5,-5,-2.6,-3.8,-5.5,-6.7,-2.1],[-3.5,-5,-5.5,-7.4,-5.5,-4,-2.6],[-2.1,-3,-4,-5,-4,-1.2,-.7],[-4,-5.5,-4,-1.1,-2.6,-3.5,-5.5,-5.5,-3],[-2.6,-3,-1.6,-3,-4,-6.4,-5.9,-6.4],[-7.4,-6.9,-5.9,-1.6,-1.2,-2.1,-1.6]];
const dOut=[[0,2.6,6.6],[0,30.2,-21.9],[0,31.9,-22],[0,32.8,-19],[0,29.3,-19.7],[0,29,-14],[0,29.5,-16],[0,30,-17.5],[0,31,-19],
[1,4.7,-6.2],[1,21.6,-2.7],[1,32.3,6.3],[1,32.3,5.6],[1,32.3,4.8],[1,32.3,3.4],[1,32.3,2.7],
[2,28.4,8],[2,28.4,7.5],[3,3.4,-6.5],[3,3.4,6.3],[4,12.1,6.3],[4,3,7],[4,26,6.4],
[6,8.2,6.3],[6,25.9,5.6],[6,17.2,-1.5],[7,4.7,-4.5],[7,12.9,-3.8],[7,4.7,6],
[9,4.7,8.2],[9,21.6,6.6],[10,23.7,8.3],[10,18.1,5.8],[10,6.5,-6.9],[10,23.7,-6.2],[10,23.7,-5],
[11,13.4,4.5],[12,15.1,8.2],[12,15.1,7],[12,14.2,-6.4],[12,14.2,-6.8],[12,6.9,-5.5],[12,14.2,-2.6],
[13,5.2,6.8],[14,14.2,6],[14,14.2,-7.1],[15,13.8,-1.6],[17,1.7,6.3]];

const BLUE="#0f3e86",RED="#a9191f",YEL="#fdb515",PINK="#fe1b8b",DRED="#a9150f";
const SANS="'Liberation Sans',Arial,sans-serif",SERIF="'Liberation Serif','Times New Roman',serif";
const svg=d3.select("#c");
const defs=svg.append("defs");
defs.append("filter").attr("id","b1").append("feGaussianBlur").attr("stdDeviation",0.35);
defs.append("filter").attr("id","b2").attr("filterUnits","userSpaceOnUse").attr("x",0).attr("y",480).attr("width",962).attr("height",496).append("feGaussianBlur").attr("stdDeviation",0.7);

function pca(o){
  const g=svg.append("g").attr("filter","url(#b1)");
  const x=d3.scaleLinear().domain(o.xd).range([o.l,o.r]);
  const y=d3.scaleLinear().domain(o.yd).range([440.7,15]);
  const ax=g.append("g").attr("transform","translate(0,440.7)").call(d3.axisBottom(x).tickValues(o.xt).tickFormat(String).tickSize(3).tickSizeOuter(0));
  const ay=g.append("g").attr("transform",`translate(${o.l},0)`).call(d3.axisLeft(y).tickValues(o.yt).tickFormat(String).tickSize(3).tickSizeOuter(0));
  [ax,ay].forEach(a=>{a.select(".domain").attr("stroke","#b5b5b5").attr("stroke-width",1.5);
    a.selectAll(".tick line").attr("stroke","#888");
    a.selectAll("text").attr("font-family",SANS).attr("font-size",10.5).attr("fill","#555");});
  ax.selectAll("text").attr("y",7);
  ay.selectAll("text").attr("transform","rotate(-90)").attr("x",0).attr("y",-7).attr("text-anchor","middle").attr("dy",0);
  o.series.forEach(s=>g.append("g").selectAll("circle").data(s.d).join("circle")
    .attr("cx",d=>x(d[0])).attr("cy",d=>y(d[1])).attr("r",2.75).attr("fill",s.c));
  g.append("text").attr("x",o.xl).attr("y",466).attr("text-anchor","middle").attr("font-family",SANS).attr("font-size",10).attr("fill","#555").text(o.xlab);
  g.append("text").attr("transform",`translate(${o.yl},228) rotate(-90)`).attr("text-anchor","middle").attr("font-family",SANS).attr("font-size",10).attr("fill","#555").text("PC2 5%");
  o.legend.forEach((s,i)=>{
    g.append("circle").attr("cx",o.lx).attr("cy",27.5+i*13.3).attr("r",2.6).attr("fill",s.c);
    g.append("text").attr("x",o.lx+o.lg).attr("y",31.2+i*13.3).attr("font-family",SANS).attr("font-size",o.lf).attr("fill","#444").text(s.n);
  });
}
const nK={n:"KIBAHA",c:BLUE},nU={n:"UKIRIGURU",c:RED},nG={n:"UGANDA",c:YEL};
pca({l:52.3,r:440.7,xd:[-5.606,3.984],yd:[-4.21,5.408],xt:[-4,-2,0,2],yt:[-4,-2,0,2,4],
  series:[{d:kibahaA,c:BLUE},{d:ukiriguruA,c:RED}],xlab:"PC1 7%",xl:246.7,yl:33,legend:[nK,nU],lx:61,lg:9,lf:10});
pca({l:511.7,r:878.3,xd:[-12.21,5.39],yd:[-7.67,9.97],xt:[-10,-5,0,5],yt:[-5,0,5],
  series:[{d:kibahaB,c:BLUE},{d:ugandaB,c:YEL},{d:ukiriguruB,c:RED}],xlab:"PC1 11%",xl:695,yl:493,legend:[nK,nU,nG],lx:520.5,lg:8,lf:9.4});

function manh(o){
  const lens=o.lens;
  const g=svg.append("g").attr("filter","url(#b2)");
  const total=d3.sum(lens);
  const X=d3.scaleLinear().domain([0,total]).range([o.l,o.r]);
  const y=d3.scaleLinear().domain(o.yd).range([o.bottom,o.top]);
  const yAxis=g.append("g").attr("transform",`translate(${o.l},0)`).call(d3.axisLeft(y).tickValues(o.ticks).tickFormat(v=>d3.format(o.fmt)(v/1000).replace("\u2212","-")).tickSize(3).tickSizeOuter(0));
  yAxis.select(".domain").remove();
  yAxis.selectAll(".tick line").attr("stroke","#999");
  yAxis.selectAll("text").attr("font-family",SANS).attr("font-weight",700).attr("font-size",21).attr("fill","#1c1c1c")
    .attr("x",-5).attr("dy","0.36em").attr("textLength",d=>d<0?o.wn:o.w).attr("lengthAdjust","spacingAndGlyphs");
  o.ticks.forEach(t=>g.append("line").attr("x1",o.l).attr("x2",o.r).attr("y1",y(t)).attr("y2",y(t)).attr("stroke","#f0f0f0"));
  let s=0; const clip=`clip${o.id}`;
  defs.append("clipPath").attr("id",clip).append("rect").attr("x",o.l).attr("y",o.top).attr("width",o.r-o.l).attr("height",o.bottom-o.top);
  const marks=g.append("g").attr("clip-path",`url(#${clip})`);
  const starts=[];
  lens.forEach((len,i)=>{
    starts.push(s);
    const fx=d3.scaleLinear().domain([0,len]).range([X(s),X(s+len)]);
    const col=i%2?DRED:PINK;
    d3.range(0,len,5).forEach(m=>marks.append("line").attr("x1",fx(m)).attr("x2",fx(m)).attr("y1",o.top).attr("y2",o.bottom).attr("stroke",m%10?"#fafafa":"#f2f2f2"));
    [o.hi[i],o.lo[i]].forEach(arr=>{
      const pts=arr.map((v,k)=>[len*k/(arr.length-1),v]);
      marks.append("path").datum(pts).attr("fill",col)
        .attr("d",d3.area().x(d=>fx(d[0])).y0(y(0)).y1(d=>y(d[1])));
      marks.append("g").selectAll("circle").data(pts).join("circle")
        .attr("cx",d=>fx(d[0])).attr("cy",d=>y(d[1])).attr("r",2.1).attr("fill",col);
    });
    marks.append("g").selectAll("circle").data(o.out.filter(d=>d[0]===i)).join("circle")
      .attr("cx",d=>fx(d[1])).attr("cy",d=>y(d[2])).attr("r",2.4).attr("fill",col);
    const ax=g.append("g").attr("transform",`translate(0,${o.bottom})`).call(d3.axisBottom(fx).tickValues(mbTicks.filter(t=>t<len)).tickFormat(String).tickSize(2.5).tickSizeOuter(0));
    ax.select(".domain").remove();
    ax.selectAll("line").attr("stroke","#777");
    ax.selectAll("text").attr("font-family",SANS).attr("font-weight",700).attr("font-size",15).attr("fill","#222").attr("y",5)
      .attr("textLength",d=>d?9.5:5).attr("lengthAdjust","spacingAndGlyphs");
    s+=len;
  });
  g.append("line").attr("x1",o.l).attr("x2",o.r).attr("y1",y(0)).attr("y2",y(0)).attr("stroke","#1a0505").attr("stroke-width",2.2);
  lens.forEach((len,i)=>{
    const a=X(starts[i]),b=X(starts[i]+len);
    g.append("rect").attr("x",a).attr("y",o.stripTop).attr("width",b-a).attr("height",o.top-o.stripTop).attr("fill","#d8d8d8").attr("stroke","#8a8a8a").attr("stroke-width",1);
    g.append("line").attr("x1",b).attr("x2",b).attr("y1",o.top).attr("y2",o.bottom).attr("stroke","#707070").attr("stroke-width",1.4);
  });
  lens.forEach((len,i)=>{
    const a=X(starts[i]),b=X(starts[i]+len),n=chromNames[i];
    g.append("text").attr("x",(a+b)/2).attr("y",o.top-7).attr("text-anchor","middle").attr("font-family",SANS).attr("font-size",29).attr("fill","#1a1a1a").attr("stroke","#1a1a1a").attr("stroke-width",0.5)
      .attr("textLength",n.length*o.dw).attr("lengthAdjust","spacingAndGlyphs").text(n);
  });
  g.append("line").attr("x1",o.l).attr("x2",o.l).attr("y1",o.top).attr("y2",o.bottom).attr("stroke","#b5b5b5").attr("stroke-width",1.4);
}
manh({id:"C",lens:chromLenC,l:60,r:461,top:599.3,bottom:954,stripTop:562.3,yd:[-13.03,13.84],ticks:cTicks,fmt:".3f",hi:cHi,lo:cLo,out:cOut,w:39,wn:44,dw:10.5});
manh({id:"D",lens:chromLenD,l:534,r:962.2,top:608.7,bottom:956,stripTop:571.7,yd:[-24.07,25.9],ticks:dTicks,fmt:".2f",hi:dHi,lo:dLo,out:dOut,w:33,wn:38,dw:10.5});

const letters=[["(a)",11.5,26],["(b)",472,26],["(c)",11.5,531],["(d)",488.5,531]];
svg.append("g").attr("filter","url(#b1)").selectAll("text").data(letters).join("text")
  .attr("x",d=>d[1]).attr("y",d=>d[2]).attr("font-family","'Open Sans',sans-serif").attr("font-weight",700).attr("font-size",19).attr("fill","#111").text(d=>d[0]);
const titles=[["Tanzania",231.5,536,34,87],["Tanzania & Uganda",715.5,542.5,30,205]];
svg.append("g").attr("filter","url(#b2)").selectAll("text").data(titles).join("text")
  .attr("x",d=>d[1]).attr("y",d=>d[2]).attr("text-anchor","middle").attr("font-family",SERIF).attr("font-weight",700).attr("font-size",d=>d[3]).attr("fill","#111")
  .attr("textLength",d=>d[4]).attr("lengthAdjust","spacingAndGlyphs").text(d=>d[0]);
</script></body></html>
